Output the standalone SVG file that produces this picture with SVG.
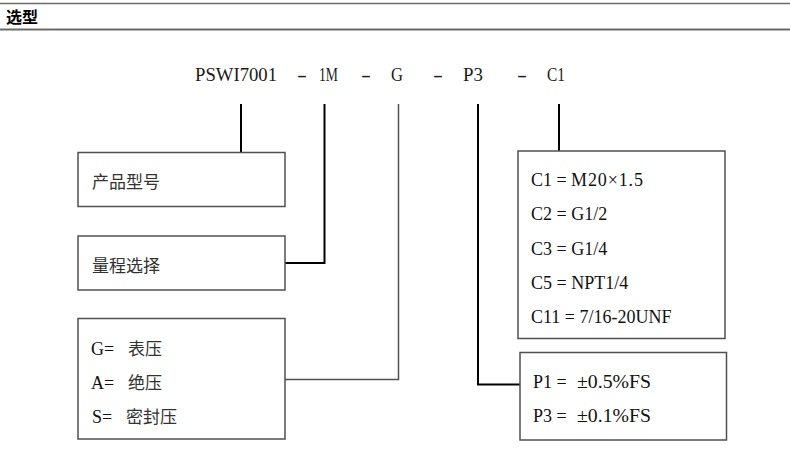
<svg xmlns="http://www.w3.org/2000/svg" width="790" height="456" viewBox="0 0 790 456">
<style>
.box{fill:#fff;stroke:#505050;stroke-width:1.5}
.lk{fill:none;stroke:#000;stroke-width:2}
.lg{fill:none;stroke:#505050;stroke-width:1.5}
.code{font-family:"Liberation Serif",serif;font-size:19px;fill:#1a1a1a}
.lat{font-family:"Liberation Serif",serif;font-size:18px;fill:#111}
.cjk{font-family:"Noto Sans CJK SC",sans-serif;font-size:17px;fill:#333}
.hdr{font-family:"Noto Sans CJK SC",sans-serif;font-size:16px;font-weight:bold;fill:#000}
</style>
<rect width="790" height="456" fill="#fff"/>
<g id="header">
<line x1="0" y1="3.5" x2="790" y2="3.5" stroke="#6a6a6a" stroke-width="1.5"/>
<line x1="0" y1="29.5" x2="790" y2="29.5" stroke="#6a6a6a" stroke-width="2"/>
<text class="hdr" x="6" y="23">选型</text>
</g>
<g id="code">
<text class="code" y="81">
<tspan x="195" textLength="82" lengthAdjust="spacingAndGlyphs">PSWI7001</tspan>
<tspan x="297" textLength="10" lengthAdjust="spacingAndGlyphs">-</tspan>
<tspan x="319" textLength="19" lengthAdjust="spacingAndGlyphs">1M</tspan>
<tspan x="361" textLength="10" lengthAdjust="spacingAndGlyphs">-</tspan>
<tspan x="391" textLength="12" lengthAdjust="spacingAndGlyphs">G</tspan>
<tspan x="433" textLength="10" lengthAdjust="spacingAndGlyphs">-</tspan>
<tspan x="463" textLength="20" lengthAdjust="spacingAndGlyphs">P3</tspan>
<tspan x="517" textLength="10" lengthAdjust="spacingAndGlyphs">-</tspan>
<tspan x="547" textLength="18" lengthAdjust="spacingAndGlyphs">C1</tspan>
</text>
</g>
<g id="connectors">
<line class="lk" x1="241" y1="104" x2="241" y2="152"/>
<polyline class="lk" points="324.5,104 324.5,263 285,263"/>
<polyline class="lg" points="398.5,104 398.5,379.5 285,379.5"/>
<polyline class="lk" points="478,104 478,384.5 520,384.5"/>
<line class="lk" x1="559" y1="104" x2="559" y2="151"/>
</g>
<g id="node-model">
<rect class="box" x="78" y="152.5" width="207" height="54"/>
<text class="cjk" x="92" y="188">产品型号</text>
</g>
<g id="node-range">
<rect class="box" x="78" y="236" width="207" height="54"/>
<text class="cjk" x="92" y="272">量程选择</text>
</g>
<g id="node-type">
<rect class="box" x="78" y="318.5" width="207" height="120.5"/>
<text class="lat" x="91" y="355">G=</text><text class="cjk" x="128" y="355">表压</text>
<text class="lat" x="91" y="389">A=</text><text class="cjk" x="128" y="389">绝压</text>
<text class="lat" x="92" y="423">S=</text><text class="cjk" x="126" y="423">密封压</text>
</g>
<g id="node-connection">
<rect class="box" x="518" y="151" width="207" height="187.5"/>
<text class="lat" x="531" y="186">C1 =<tspan x="571" textLength="72" lengthAdjust="spacing">M20×1.5</tspan></text>
<text class="lat" x="531" y="220">C2 = G1/2</text>
<text class="lat" x="531" y="255">C3 = G1/4</text>
<text class="lat" x="531" y="289">C5 = NPT1/4</text>
<text class="lat" x="531" y="323">C11 = 7/16-20UNF</text>
</g>
<g id="node-accuracy">
<rect class="box" x="520" y="352.5" width="206.5" height="87.5"/>
<text class="lat" x="533" y="388">P1 =<tspan x="577" textLength="74" lengthAdjust="spacingAndGlyphs">±0.5%FS</tspan></text>
<text class="lat" x="533" y="422">P3 =<tspan x="577" textLength="74" lengthAdjust="spacingAndGlyphs">±0.1%FS</tspan></text>
</g>
</svg>
